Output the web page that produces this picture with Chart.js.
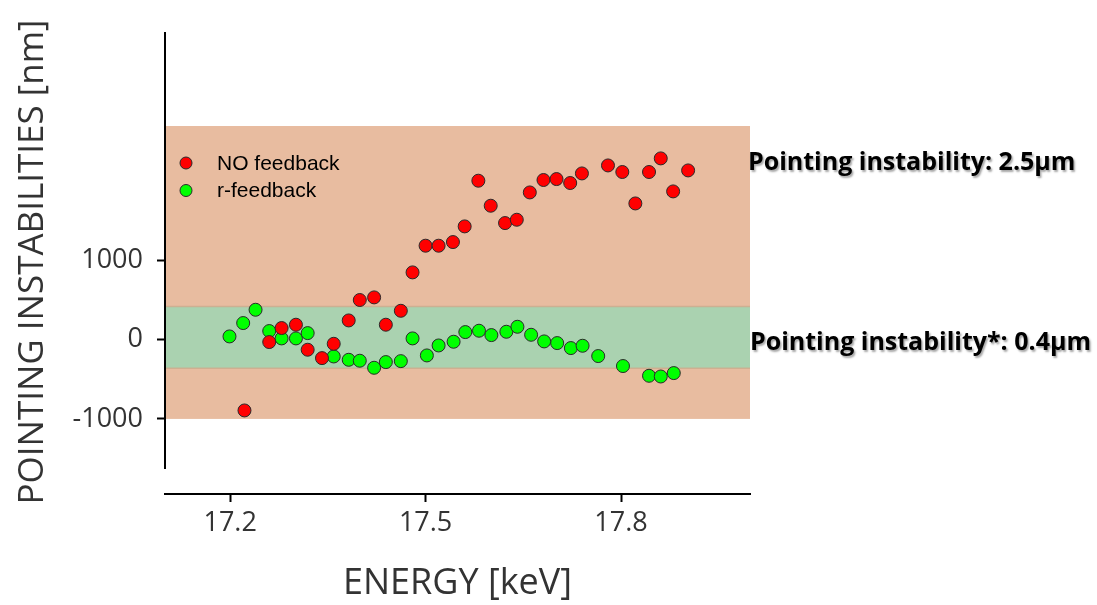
<!DOCTYPE html>
<html>
<head>
<meta charset="utf-8">
<script src="https://cdn.jsdelivr.net/npm/chart.js@4.4.1/dist/chart.umd.min.js"></script>
<style>
  html, body { margin: 0; padding: 0; background: #fff; }
</style>
</head>
<body>
<canvas id="chart" width="1097" height="605"></canvas>
<script>
// ---------- DATA ----------
let noFbEnergy = [17.222, 17.260, 17.279, 17.301, 17.319, 17.341, 17.359, 17.382, 17.399, 17.421, 17.439,
  17.462, 17.480, 17.500, 17.520, 17.542, 17.560, 17.581, 17.600, 17.622, 17.640, 17.660, 17.681, 17.701,
  17.722, 17.740, 17.780, 17.802, 17.822, 17.843, 17.861, 17.880, 17.903];
let noFbValues = [-893, -29, 148, 190, -126, -232, -51, 244, 502, 535, 190,
  366, 851, 1188, 1188, 1234, 1432, 2009, 1693, 1474, 1516, 1861, 2018, 2030,
  1980, 2101, 2202, 2119, 1722, 2119, 2291, 1874, 2139];

let rFbEnergy = [17.199, 17.220, 17.239, 17.260, 17.279, 17.301, 17.319, 17.359, 17.382, 17.399, 17.421,
  17.439, 17.462, 17.480, 17.502, 17.520, 17.543, 17.561, 17.582, 17.601, 17.624, 17.641, 17.662,
  17.682, 17.702, 17.723, 17.741, 17.765, 17.803, 17.843, 17.861, 17.881];
let rFbValues = [42, 211, 379, 110, 17, 17, 84, -211, -253, -265, -354,
  -282, -270, 17, -198, -72, -25, 97, 114, 59, 101, 164, 63,
  -21, -42, -105, -76, -206, -332, -455, -464, -421];

let seriesLabels = ["NO feedback", "r-feedback"];
let xTicks = [17.2, 17.5, 17.8];
let yTicks = [-1000, 0, 1000];
let yTitle = "POINTING INSTABILITIES [nm]";

// shaded ranges [low, high] in nm
let noFbBand = [-1000, 2700];
let rFbBand = [-360, 420];
let bandNotes = ["Pointing instability: 2.5\u00b5m", "Pointing instability*: 0.4\u00b5m"];

// ---------- PLUGINS ----------
const bands = {
  id: "bands",
  beforeDatasetsDraw(c) {
    let ctx = c.ctx, a = c.chartArea, y = c.scales.y;
    ctx.save();
    let y1 = y.getPixelForValue(noFbBand[1]), y0 = y.getPixelForValue(noFbBand[0]);
    ctx.fillStyle = "rgb(232,188,160)";
    ctx.fillRect(a.left + 1, y1, a.right - a.left - 1, y0 - y1);
    let g1 = y.getPixelForValue(rFbBand[1]), g0 = y.getPixelForValue(rFbBand[0]);
    ctx.fillStyle = "rgb(170,210,176)";
    ctx.fillRect(a.left + 1, g1, a.right - a.left - 1, g0 - g1);
    ctx.strokeStyle = "rgba(205,170,140,0.8)";
    ctx.lineWidth = 1.5;
    ctx.beginPath();
    ctx.moveTo(a.left + 1, g1); ctx.lineTo(a.right, g1);
    ctx.moveTo(a.left + 1, g0); ctx.lineTo(a.right, g0);
    ctx.stroke();
    ctx.restore();
  },
  afterDraw(c) {
    let ctx = c.ctx, a = c.chartArea;
    ctx.save();
    // y title (drawn here so it can sit a bit lower than the axis centre)
    ctx.save();
    ctx.translate(33, 262);
    ctx.rotate(-Math.PI / 2);
    ctx.font = "35px 'Open Sans'";
    ctx.fillStyle = "#333";
    ctx.textAlign = "center";
    ctx.textBaseline = "middle";
    ctx.fillText(yTitle, 0, 0);
    ctx.restore();
    // legend
    ctx.font = "21px 'Liberation Sans', Arial";
    ctx.textBaseline = "middle";
    c.data.datasets.forEach((d, i) => {
      let cy = 163 + i * 27.5;
      ctx.beginPath();
      ctx.arc(186, cy, 6, 0, Math.PI * 2);
      ctx.fillStyle = d.backgroundColor;
      ctx.fill();
      ctx.lineWidth = 1;
      ctx.strokeStyle = d.borderColor;
      ctx.stroke();
      ctx.fillStyle = "#000";
      ctx.fillText(d.label, 217, cy + 1);
    });
    // notes on the right
    ctx.font = "bold 25px 'Open Sans'";
    ctx.fillStyle = "#000";
    ctx.shadowColor = "rgba(0,0,0,0.35)";
    ctx.shadowOffsetX = 1.5;
    ctx.shadowOffsetY = 1.5;
    ctx.shadowBlur = 2;
    ctx.fillText(bandNotes[0], a.right - 2, 163);
    ctx.fillText(bandNotes[1], a.right, 343);
    ctx.restore();
  }
};

// ---------- CHART ----------
let tickFont = { family: "'Open Sans'", size: 27 };

new Chart(document.getElementById("chart"), {
  type: "scatter",
  data: {
    datasets: [
      {
        label: seriesLabels[0],
        data: noFbEnergy.map((v, i) => ({ x: v, y: noFbValues[i] })),
        backgroundColor: "#ff0000",
        borderColor: "#2a2a2a",
        borderWidth: 1,
        pointRadius: 6.5,
        pointHoverRadius: 6.5
      },
      {
        label: seriesLabels[1],
        data: rFbEnergy.map((v, i) => ({ x: v, y: rFbValues[i] })),
        backgroundColor: "#00ff00",
        borderColor: "#2a2a2a",
        borderWidth: 1,
        pointRadius: 6.5,
        pointHoverRadius: 6.5
      }
    ]
  },
  options: {
    responsive: false,
    animation: false,
    layout: { padding: { left: 0, top: 33, right: 347, bottom: 0 } },
    plugins: {
      legend: { display: false },
      tooltip: { enabled: false }
    },
    scales: {
      x: {
        type: "linear",
        position: "bottom",
        weight: 1,
        min: 17.1,
        max: 17.998,
        afterBuildTicks: s => { s.ticks = xTicks.map(v => ({ value: v })); },
        ticks: {
          color: "#333",
          font: tickFont,
          padding: 5,
          maxRotation: 0,
          autoSkip: false,
          callback: v => v.toFixed(1)
        },
        grid: { drawOnChartArea: false, tickLength: 8, tickWidth: 2, tickColor: "#000" },
        border: { color: "#000", width: 2 },
        title: {
          display: true,
          text: "ENERGY [keV]",
          color: "#333",
          font: { family: "'Open Sans'", size: 36 },
          padding: { top: 0, bottom: 0 }
        },
        afterFit: s => { s.height = 111; }
      },
      xs: {
        type: "linear",
        position: "bottom",
        weight: 0,
        min: 0,
        max: 1,
        ticks: { display: false },
        grid: { display: false },
        border: { display: false },
        afterFit: s => { s.height = 26; }
      },
      y: {
        min: -1620,
        max: 3875,
        afterBuildTicks: s => { s.ticks = yTicks.map(v => ({ value: v })); },
        ticks: { color: "#333", font: tickFont, padding: 14, callback: v => String(v) },
        grid: { drawOnChartArea: false, tickLength: 8, tickWidth: 2, tickColor: "#000" },
        border: { color: "#000", width: 2 },
        title: { display: false },
        afterFit: s => { s.width = 165; }
      }
    }
  },
  plugins: [bands]
});
</script>
</body>
</html>
